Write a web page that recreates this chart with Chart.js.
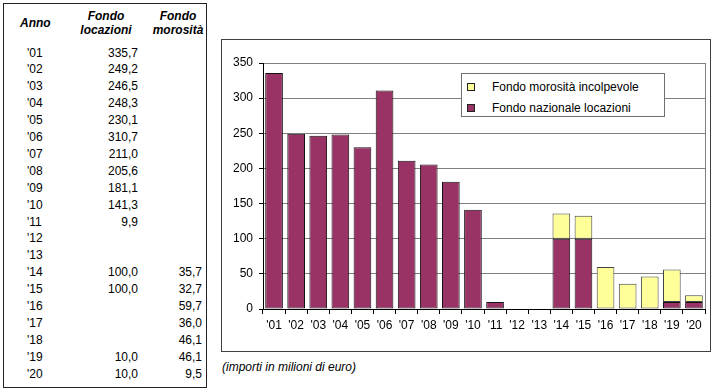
<!DOCTYPE html>
<html>
<head>
<meta charset="utf-8">
<script src="https://cdn.jsdelivr.net/npm/chart.js@4/dist/chart.umd.min.js"></script>
<style>
    body { margin: 0; background: #fff; font-family: 'Liberation Sans', Arial, sans-serif; }
    #page { position: relative; width: 713px; height: 391px; overflow: hidden; }
    #tableBox { position: absolute; left: 3px; top: 3px; width: 202px; height: 383px; border: 1px solid #222; }
    .cell { position: absolute; font-size: 12px; line-height: 14px; color: #000; white-space: nowrap; }
    .head { font-weight: bold; font-style: italic; text-align: center; }
    #chartBox { position: absolute; left: 221px; top: 39px; width: 488px; height: 311px; border: 1px solid #404040; }
    #legendBox { position: absolute; left: 461px; top: 73px; width: 202px; height: 42px; border: 1px solid #707070; background: #fff; font-size: 12px; }
    .leg { position: absolute; left: 30px; white-space: nowrap; }
    .sw { position: absolute; left: 5px; width: 6px; height: 6px; border: 1px solid #222; }
    #caption { position: absolute; left: 222px; top: 360px; font-size: 12px; font-style: italic; }
</style>
</head>
<body>
<div id="page">
    <div id="tableBox"></div>
    <div id="chartBox"><canvas id="fondiChart" width="488" height="311"></canvas></div>
    <div id="legendBox"></div>
    <div id="caption">(importi in milioni di euro)</div>
</div>
<script>
// Data
const years = ["'01", "'02", "'03", "'04", "'05", "'06", "'07", "'08", "'09", "'10",
               "'11", "'12", "'13", "'14", "'15", "'16", "'17", "'18", "'19", "'20"];
const fondoLocazioni = [335.7, 249.2, 246.5, 248.3, 230.1, 310.7, 211.0, 205.6, 181.1, 141.3,
                        9.9, null, null, 100.0, 100.0, null, null, null, 10.0, 10.0];
const fondoMorosita = [null, null, null, null, null, null, null, null, null, null,
                       null, null, null, 35.7, 32.7, 59.7, 36.0, 46.1, 46.1, 9.5];
const yTicks = [0, 50, 100, 150, 200, 250, 300, 350];

const seriesLabels = ['Fondo nazionale locazioni', 'Fondo morosità incolpevole'];
const PURPLE = '#993366';
const YELLOW = '#FFFF99';

// Table on the left
function fmt(v) {
    return v == null ? '' : v.toFixed(1).replace('.', ',');
}

function buildTable() {
    const page = document.getElementById('page');
    const add = (html, css, cls) => {
        const d = document.createElement('div');
        d.className = 'cell ' + (cls || '');
        d.innerHTML = html;
        Object.assign(d.style, css);
        page.appendChild(d);
    };
    add('Anno', { left: '20px', top: '16px', width: '30px' }, 'head');
    add('Fondo<br>locazioni', { left: '77px', top: '9px', width: '58px' }, 'head');
    add('Fondo<br>morosità', { left: '150px', top: '9px', width: '56px' }, 'head');

    years.forEach((y, i) => {
        const top = (45.5 + i * 16.9) + 'px';
        add(y, { left: '27px', top: top });
        add(fmt(fondoLocazioni[i]), { right: (713 - 138) + 'px', top: top });
        add(fmt(fondoMorosita[i]), { right: (713 - 202) + 'px', top: top });
    });
}

function buildLegend() {
    const box = document.getElementById('legendBox');
    const items = [[seriesLabels[1], YELLOW, 6], [seriesLabels[0], PURPLE, 27]];
    items.forEach(([txt, col, top]) => {
        const sw = document.createElement('div');
        sw.className = 'sw';
        sw.style.background = col;
        sw.style.top = (top + 3) + 'px';
        box.appendChild(sw);
        const t = document.createElement('div');
        t.className = 'leg';
        t.style.top = top + 'px';
        t.textContent = txt;
        box.appendChild(t);
    });
}

// grey frame on the plot area (top / right)
const plotFrame = {
    id: 'plotFrame',
    beforeDatasetsDraw(chart) {
        const { ctx, chartArea: a } = chart;
        ctx.save();
        ctx.strokeStyle = '#808080';
        ctx.lineWidth = 1;
        ctx.beginPath();
        ctx.moveTo(Math.round(a.right) + 0.5, a.top);
        ctx.lineTo(Math.round(a.right) + 0.5, a.bottom);
        ctx.stroke();
        ctx.restore();
    }
};

function buildChart() {
    const ctx = document.getElementById('fondiChart').getContext('2d');
    const font = { family: "'Liberation Sans', Arial, sans-serif", size: 12 };

    new Chart(ctx, {
        type: 'bar',
        data: {
            labels: years,
            datasets: [
                {
                    label: seriesLabels[0],
                    data: fondoLocazioni,
                    backgroundColor: PURPLE,
                    borderColor: '#111',
                    borderWidth: 1,
                    borderSkipped: false,
                    barPercentage: 0.8,
                    categoryPercentage: 1.0,
                    stack: 'fondi'
                },
                {
                    label: seriesLabels[1],
                    data: fondoMorosita,
                    backgroundColor: YELLOW,
                    borderColor: '#444',
                    borderWidth: 1,
                    borderSkipped: false,
                    barPercentage: 0.8,
                    categoryPercentage: 1.0,
                    stack: 'fondi'
                }
            ]
        },
        options: {
            responsive: false,
            animation: false,
            layout: { padding: { left: 0, top: 23, right: 5, bottom: 0 } },
            plugins: {
                legend: { display: false },
                tooltip: { enabled: false }
            },
            scales: {
                x: {
                    stacked: true,
                    grid: { display: true, drawOnChartArea: false, tickLength: 5, color: '#000' },
                    border: { color: '#000' },
                    ticks: { color: '#000', font: font, padding: 4, maxRotation: 0, autoSkip: false },
                    afterFit: scale => { scale.height = 42; }
                },
                y: {
                    stacked: true,
                    min: 0,
                    max: 350,
                    afterBuildTicks: scale => { scale.ticks = yTicks.map(v => ({ value: v })); },
                    grid: { color: '#808080', tickColor: '#000', tickLength: 4 },
                    border: { color: '#000' },
                    ticks: { color: '#000', font: font, padding: 6 },
                    afterFit: scale => { scale.width = 41; }
                }
            }
        },
        plugins: [plotFrame]
    });
}

buildTable();
buildLegend();
buildChart();
</script>
</body>
</html>
